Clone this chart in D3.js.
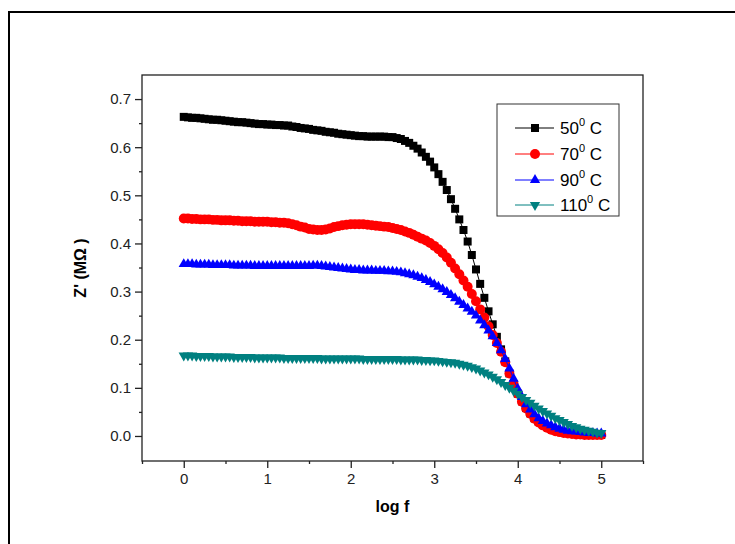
<!DOCTYPE html>
<html>
<head>
<meta charset="utf-8">
<script src="https://cdn.jsdelivr.net/npm/d3@7"></script>
<style>
  html, body { margin: 0; padding: 0; background: #fff; }
  svg { display: block; font-family: Arial, "Liberation Sans", sans-serif; }
</style>
</head>
<body>
<svg id="chart" width="735" height="544"></svg>
<script>
const logF = [0,0.05,0.1,0.15,0.2,0.25,0.3,0.35,0.4,0.45,0.5,0.55,0.6,0.65,0.7,0.75,0.8,0.85,0.9,0.95,
  1,1.05,1.1,1.15,1.2,1.25,1.3,1.35,1.4,1.45,1.5,1.55,1.6,1.65,1.7,1.75,1.8,1.85,1.9,1.95,
  2,2.05,2.1,2.15,2.2,2.25,2.3,2.35,2.4,2.45,2.5,2.55,2.6,2.65,2.7,2.75,2.8,2.85,2.9,2.95,
  3,3.05,3.1,3.15,3.2,3.25,3.3,3.35,3.4,3.45,3.5,3.55,3.6,3.65,3.7,3.75,3.8,3.85,3.9,3.95,
  4,4.05,4.1,4.15,4.2,4.25,4.3,4.35,4.4,4.45,4.5,4.55,4.6,4.65,4.7,4.75,4.8,4.85,4.9,4.95,5];

const z50 = [0.663,0.662,0.661,0.661,0.660,0.659,0.658,0.657,0.657,0.656,0.655,0.654,0.653,0.652,0.652,0.651,0.650,0.649,0.648,0.648,
  0.647,0.647,0.646,0.646,0.645,0.645,0.643,0.642,0.640,0.639,0.638,0.636,0.635,0.634,0.632,0.631,0.630,0.628,0.627,0.626,
  0.625,0.624,0.623,0.623,0.622,0.622,0.622,0.622,0.622,0.621,0.621,0.619,0.617,0.613,0.609,0.603,0.597,0.589,0.580,0.570,
  0.558,0.544,0.528,0.511,0.492,0.472,0.450,0.428,0.404,0.376,0.346,0.316,0.287,0.259,0.232,0.206,0.180,0.155,0.130,0.108,
  0.088,0.072,0.058,0.047,0.037,0.030,0.024,0.019,0.015,0.012,0.010,0.008,0.006,0.005,0.004,0.004,0.003,0.003,0.002,0.002,0.002];

const z70 = [0.452,0.452,0.451,0.451,0.450,0.450,0.450,0.449,0.449,0.448,0.448,0.448,0.447,0.447,0.446,0.446,0.446,0.445,0.445,0.445,
  0.445,0.444,0.444,0.443,0.443,0.442,0.440,0.438,0.435,0.433,0.430,0.429,0.428,0.428,0.429,0.431,0.434,0.436,0.438,0.439,
  0.440,0.440,0.440,0.440,0.439,0.438,0.437,0.436,0.435,0.434,0.432,0.430,0.428,0.425,0.422,0.418,0.414,0.410,0.406,0.401,
  0.395,0.388,0.380,0.371,0.360,0.348,0.336,0.323,0.310,0.295,0.280,0.263,0.246,0.228,0.210,0.193,0.175,0.153,0.130,0.108,
  0.088,0.071,0.057,0.046,0.036,0.028,0.022,0.017,0.013,0.010,0.008,0.006,0.005,0.004,0.003,0.003,0.002,0.002,0.002,0.002,0.002];

const z90 = [0.357,0.357,0.357,0.356,0.356,0.356,0.356,0.355,0.355,0.355,0.355,0.355,0.354,0.354,0.354,0.354,0.354,0.353,0.353,0.353,
  0.353,0.353,0.353,0.353,0.353,0.353,0.353,0.353,0.353,0.353,0.353,0.354,0.354,0.353,0.352,0.351,0.350,0.349,0.348,0.347,
  0.346,0.345,0.345,0.344,0.344,0.344,0.343,0.343,0.343,0.342,0.342,0.341,0.340,0.338,0.336,0.334,0.331,0.328,0.324,0.320,
  0.315,0.310,0.305,0.299,0.293,0.286,0.279,0.272,0.265,0.258,0.250,0.240,0.230,0.219,0.207,0.193,0.178,0.160,0.140,0.119,
  0.098,0.081,0.066,0.055,0.045,0.037,0.031,0.026,0.022,0.018,0.015,0.013,0.011,0.010,0.009,0.008,0.007,0.006,0.006,0.005,0.005];

const z110 = [0.167,0.167,0.167,0.166,0.166,0.166,0.166,0.165,0.165,0.165,0.165,0.165,0.164,0.164,0.164,0.164,0.164,0.163,0.163,0.163,
  0.163,0.163,0.163,0.163,0.162,0.162,0.162,0.162,0.162,0.162,0.162,0.162,0.162,0.161,0.161,0.161,0.161,0.161,0.161,0.161,
  0.161,0.161,0.161,0.160,0.160,0.160,0.160,0.160,0.160,0.160,0.160,0.160,0.159,0.159,0.159,0.159,0.159,0.158,0.158,0.157,
  0.157,0.156,0.155,0.154,0.153,0.152,0.150,0.148,0.146,0.143,0.140,0.136,0.132,0.128,0.123,0.118,0.112,0.106,0.100,0.094,
  0.088,0.081,0.075,0.069,0.063,0.057,0.052,0.047,0.042,0.037,0.033,0.029,0.025,0.021,0.018,0.015,0.013,0.011,0.009,0.007,0.006];

const seriesNames = ["50", "70", "90", "110"];
const seriesColors = ["#000000", "#ff0000", "#0000ff", "#008080"];
const xTicks = [0, 1, 2, 3, 4, 5];
const yTicks = [0.0, 0.1, 0.2, 0.3, 0.4, 0.5, 0.6, 0.7];
const xTitle = "log f";
const yTitle = "Z' (M\u03A9 )";

const series = [
  { name: seriesNames[0], color: seriesColors[0], values: z50, symbol: d3.symbolSquare, size: 64, rot: 0 },
  { name: seriesNames[1], color: seriesColors[1], values: z70, symbol: d3.symbolCircle, size: 78, rot: 0 },
  { name: seriesNames[2], color: seriesColors[2], values: z90, symbol: d3.symbolTriangle, size: 46, rot: 0 },
  { name: seriesNames[3], color: seriesColors[3], values: z110, symbol: d3.symbolTriangle, size: 46, rot: 180 }
];

const svg = d3.select("#chart");

// outer frame (extends beyond the visible area)
svg.append("rect").attr("x", 9).attr("y", 12).attr("width", 740).attr("height", 560)
  .attr("fill", "none").attr("stroke", "#000").attr("stroke-width", 2);

const L = 142, R = 643, T = 75, B = 461;
const x = d3.scaleLinear().domain([-0.5, 5.5]).range([L, R]);
const y = d3.scaleLinear().domain([-0.052, 0.75]).range([B, T]);

// plot frame
svg.append("rect").attr("x", L).attr("y", T).attr("width", R - L).attr("height", B - T)
  .attr("fill", "none").attr("stroke", "#222").attr("stroke-width", 1.3);

// x axis
const xAxis = svg.append("g").attr("transform", `translate(0,${B})`)
  .call(d3.axisBottom(x).tickValues(xTicks).tickFormat(d3.format("d")).tickSize(7).tickPadding(5));
const xMinor = svg.append("g").attr("transform", `translate(0,${B})`)
  .call(d3.axisBottom(x).tickValues(d3.range(-0.5, 5.51, 1)).tickFormat("").tickSize(3));

// y axis
const yAxis = svg.append("g").attr("transform", `translate(${L},0)`)
  .call(d3.axisLeft(y).tickValues(yTicks).tickFormat(d3.format(".1f")).tickSize(7).tickPadding(4));
const yMinor = svg.append("g").attr("transform", `translate(${L},0)`)
  .call(d3.axisLeft(y).tickValues([0.05, 0.15, 0.25, 0.35, 0.45, 0.55, 0.65]).tickFormat("").tickSize(3));

[xAxis, xMinor, yAxis, yMinor].forEach(g => {
  g.select(".domain").remove();
  g.selectAll("line").attr("stroke", "#222").attr("stroke-width", 1.3);
  g.selectAll("text").attr("fill", "#222").style("font-size", "15px")
    .style("font-family", "Arial, 'Liberation Sans', sans-serif");
});

// axis titles
svg.append("text").attr("x", (L + R) / 2).attr("y", 512).attr("text-anchor", "middle")
  .style("font-size", "16px").style("font-weight", "bold").text(xTitle);
svg.append("text").attr("transform", `translate(86,${(T + B) / 2}) rotate(-90)`)
  .attr("text-anchor", "middle")
  .style("font-size", "16px").style("font-weight", "bold").text(yTitle);

// series
const line = d3.line().x((d, i) => x(logF[i])).y(d => y(d));
series.forEach(s => {
  const g = svg.append("g");
  g.append("path").datum(s.values).attr("d", line)
    .attr("fill", "none").attr("stroke", s.color).attr("stroke-width", 1);
  g.selectAll("path.m").data(s.values).enter().append("path").attr("class", "m")
    .attr("d", d3.symbol().type(s.symbol).size(s.size))
    .attr("transform", (d, i) => `translate(${x(logF[i])},${y(d)}) rotate(${s.rot})`)
    .attr("fill", s.color);
});

// legend
const lg = svg.append("g");
lg.append("rect").attr("x", 497).attr("y", 104).attr("width", 122).attr("height", 112)
  .attr("fill", "#fff").attr("stroke", "#333").attr("stroke-width", 1);
const rowY = [128, 154, 180, 205];
series.forEach((s, i) => {
  const yy = rowY[i];
  lg.append("line").attr("x1", 515).attr("x2", 554).attr("y1", yy).attr("y2", yy)
    .attr("stroke", s.color).attr("stroke-width", 1);
  lg.append("path").attr("d", d3.symbol().type(s.symbol).size(s.size)())
    .attr("transform", `translate(535,${yy}) rotate(${s.rot})`).attr("fill", s.color);
  const t = lg.append("text").attr("x", 560).attr("y", yy + 6).style("font-size", "17px").attr("fill", "#000");
  t.append("tspan").text(s.name);
  t.append("tspan").attr("dy", -8).style("font-size", "11px").text("0");
  t.append("tspan").attr("dy", 8).text(" C");
});
</script>
</body>
</html>
